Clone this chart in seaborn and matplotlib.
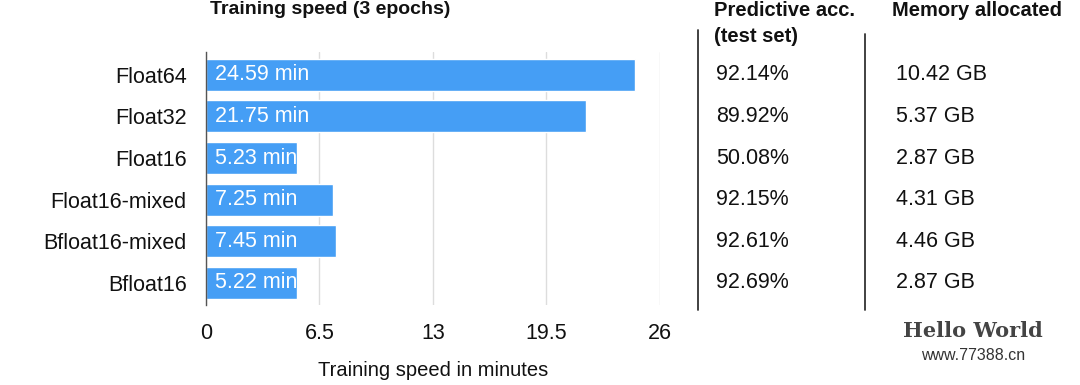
import matplotlib
matplotlib.use("Agg")
import matplotlib.pyplot as plt
import matplotlib.transforms as mtransforms
import pandas as pd
import seaborn as sns

# data
precisions = ["Float64", "Float32", "Float16", "Float16-mixed", "Bfloat16-mixed", "Bfloat16"]
train_minutes = [24.59, 21.75, 5.23, 7.25, 7.45, 5.22]
accuracy = ["92.14%", "89.92%", "50.08%", "92.15%", "92.61%", "92.69%"]
memory_gb = ["10.42 GB", "5.37 GB", "2.87 GB", "4.31 GB", "4.46 GB", "2.87 GB"]
x_ticks = [0, 6.5, 13, 19.5, 26]

df = pd.DataFrame({"precision": precisions, "minutes": train_minutes})

sns.set_style("white")
plt.rcParams["font.family"] = ["Liberation Sans", "DejaVu Sans"]

fig = plt.figure(figsize=(10.8, 3.85), dpi=100)
ax = fig.add_axes([0.1907, 0.208, 0.4204, 0.657])

sns.barplot(data=df, x="minutes", y="precision", color="#459ef5", saturation=1,
            width=0.77, ax=ax)

ax.set_xlim(0, 26)
ax.set_ylim(5.53, -0.55)
ax.set_xticks(x_ticks)
ax.set_xticklabels(["0", "6.5", "13", "19.5", "26"])
ax.xaxis.grid(True, color="#dddddd", linewidth=1)
ax.set_axisbelow(True)
for s in ["top", "right", "bottom"]:
    ax.spines[s].set_visible(False)
ax.spines["left"].set_color("#555555")
ax.spines["left"].set_linewidth(1)
ax.tick_params(axis="both", length=0, labelsize=15.5, colors="#111111")
ax.tick_params(axis="x", pad=13)
ax.tick_params(axis="y", pad=14)
ax.set_ylabel("")
ax.set_xlabel("Training speed in minutes", fontsize=14.5, labelpad=12, color="#111111")

# labels inside bars
for i, v in enumerate(train_minutes):
    ax.text(0.5, i, f"{v:.2f} min", va="center", ha="left", color="white", fontsize=15.5)

# extra columns
blend = mtransforms.blended_transform_factory(fig.transFigure, ax.transData)
for i, (a, m) in enumerate(zip(accuracy, memory_gb)):
    ax.text(716 / 1080, i, a, transform=blend, va="center", ha="left",
            fontsize=15.5, color="#111111", clip_on=False)
    ax.text(896 / 1080, i, m, transform=blend, va="center", ha="left",
            fontsize=15.5, color="#111111", clip_on=False)

# headers
fig.text(210 / 1080, 1 - 1 / 385, "Training speed (3 epochs)", fontsize=14,
         fontweight="bold", va="top", ha="left", color="#111111")
fig.text(714 / 1080, 1 - 1 / 385, "Predictive acc.\n(test set)", fontsize=14.5,
         fontweight="bold", va="top", ha="left", color="#111111", linespacing=1.45)
fig.text(892 / 1080, 1 - 1 / 385, "Memory allocated", fontsize=14.5,
         fontweight="bold", va="top", ha="left", color="#111111")

# column separators
fig.add_artist(plt.Line2D([698 / 1080, 698 / 1080], [1 - 30 / 385, 1 - 310 / 385],
                          color="#333333", linewidth=1.3))
fig.add_artist(plt.Line2D([865 / 1080, 865 / 1080], [1 - 34 / 385, 1 - 310 / 385],
                          color="#333333", linewidth=1.3))

# watermark
fig.text(973 / 1080, 1 - 331 / 385, "Hello World", fontsize=15, fontweight="bold",
         ha="center", va="center", color="#444444", family="DejaVu Serif")
fig.text(973 / 1080, 1 - 355 / 385, "www.77388.cn", fontsize=11.5,
         ha="center", va="center", color="#333333")

fig.savefig("out.png", dpi=100)
